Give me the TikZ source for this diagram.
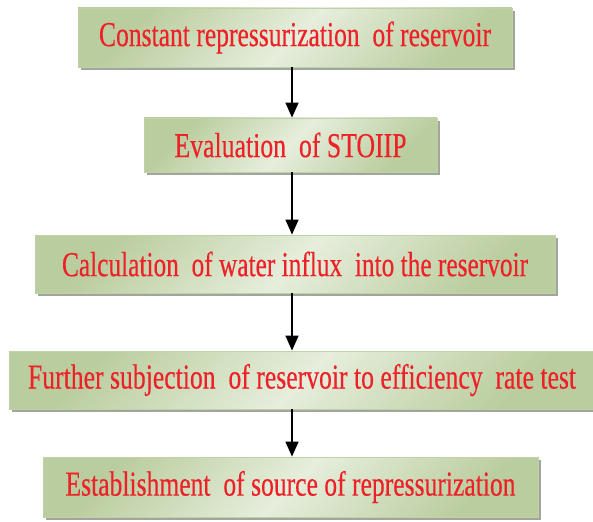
\documentclass[tikz,border=0pt]{standalone}
\usepackage{fontspec}
\newfontfamily\boxfont{Liberation Serif}[BoldFont={Liberation Serif}, BoldFeatures={FakeBold=0.4}]
\usetikzlibrary{arrows.meta,shadows}
\definecolor{boxdark}{RGB}{186,205,158}
\definecolor{boxlight}{RGB}{230,238,220}
\definecolor{boxedge}{RGB}{190,210,165}
\definecolor{shadowgray}{RGB}{160,166,158}
\definecolor{txtred}{RGB}{238,32,40}
\newcommand{\fitw}[2]{\resizebox{#1}{\height}{#2}}
\tikzset{
  stepbox/.style={rectangle, draw=boxedge, line width=0.8pt,
    top color=boxdark, bottom color=boxdark, middle color=boxlight, shading angle=45,
    drop shadow={shadow xshift=3pt, shadow yshift=-3pt, fill=shadowgray, opacity=1},
    inner sep=0pt, text=txtred, font=\boxfont\bfseries\fontsize{35}{35}\selectfont},
  flow/.style={-{Triangle[length=15pt,width=13pt]}, line width=1.4pt, black}
}
\begin{document}
\begin{tikzpicture}[x=1pt,y=-1pt]
\useasboundingbox (0,0) rectangle (593,521);
\node[stepbox, minimum width=434pt, minimum height=59pt] (b1) at (295,37.5)
  {\fitw{392pt}{Constant repressurization \ of reservoir}};
\node[stepbox, minimum width=293pt, minimum height=54pt] (b2) at (290.5,145)
  {\fitw{232pt}{Evaluation \ of STOIIP}};
\node[stepbox, minimum width=520pt, minimum height=58pt] (b3) at (295,264)
  {\fitw{466pt}{Calculation \ of water influx \ into the reservoir}};
\node[stepbox, minimum width=586pt, minimum height=58pt] (b4) at (302,380)
  {\fitw{548pt}{Further subjection \ of reservoir to efficiency \ rate test}};
\node[stepbox, minimum width=495pt, minimum height=60pt] (b5) at (290.5,487)
  {\fitw{450pt}{Establishment \ of source of repressurization}};
\coordinate (ax) at (292,0);
\draw[flow] (b1.south -| ax) -- (b2.north -| ax);
\draw[flow] (b2.south -| ax) -- (b3.north -| ax);
\draw[flow] (b3.south -| ax) -- (b4.north -| ax);
\draw[flow] (b4.south -| ax) -- (b5.north -| ax);
\end{tikzpicture}
\end{document}
